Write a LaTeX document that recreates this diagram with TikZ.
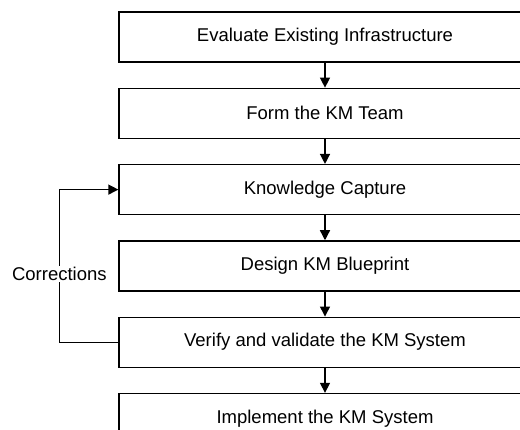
\documentclass[tikz,border=0pt]{standalone}
\usepackage{fontspec}
\setmainfont{Liberation Sans}
\usetikzlibrary{positioning,arrows.meta}

\begin{document}
\begin{tikzpicture}[x=1pt,y=-1pt,
  etape/.style={draw,line width=1.3pt,minimum width=412pt,minimum height=50pt,
    font=\fontsize{18.5}{22}\selectfont},
  fleche/.style={-{Triangle[width=10pt,length=10pt]},line width=1.3pt},
  node distance=25pt]
\clip (0,0) rectangle (520,430);

\node[etape] (eval) at (325,37) {Evaluate Existing Infrastructure};
\node[etape,below=of eval] (team) {Form the KM Team};
\node[etape,below=of team] (capture) {Knowledge Capture};
\node[etape,below=of capture] (design) {Design KM Blueprint};
\node[etape,below=of design] (verify) {Verify and validate the KM System};
\node[etape,below=of verify] (impl) {Implement the KM System};

\foreach \a/\b in {eval/team,team/capture,capture/design,design/verify,verify/impl}
\draw[fleche] (\a.south) -- (\b.north);

\coordinate (retour) at ([xshift=-59pt]verify.west);
\draw[fleche] (verify.west) -- (retour) |- (capture.west);
\node[fill=white,inner sep=1pt,font=\fontsize{18.5}{22}\selectfont] (corr)
  at ([yshift=-8pt]retour |- design) {Corrections};
\end{tikzpicture}
\end{document}
